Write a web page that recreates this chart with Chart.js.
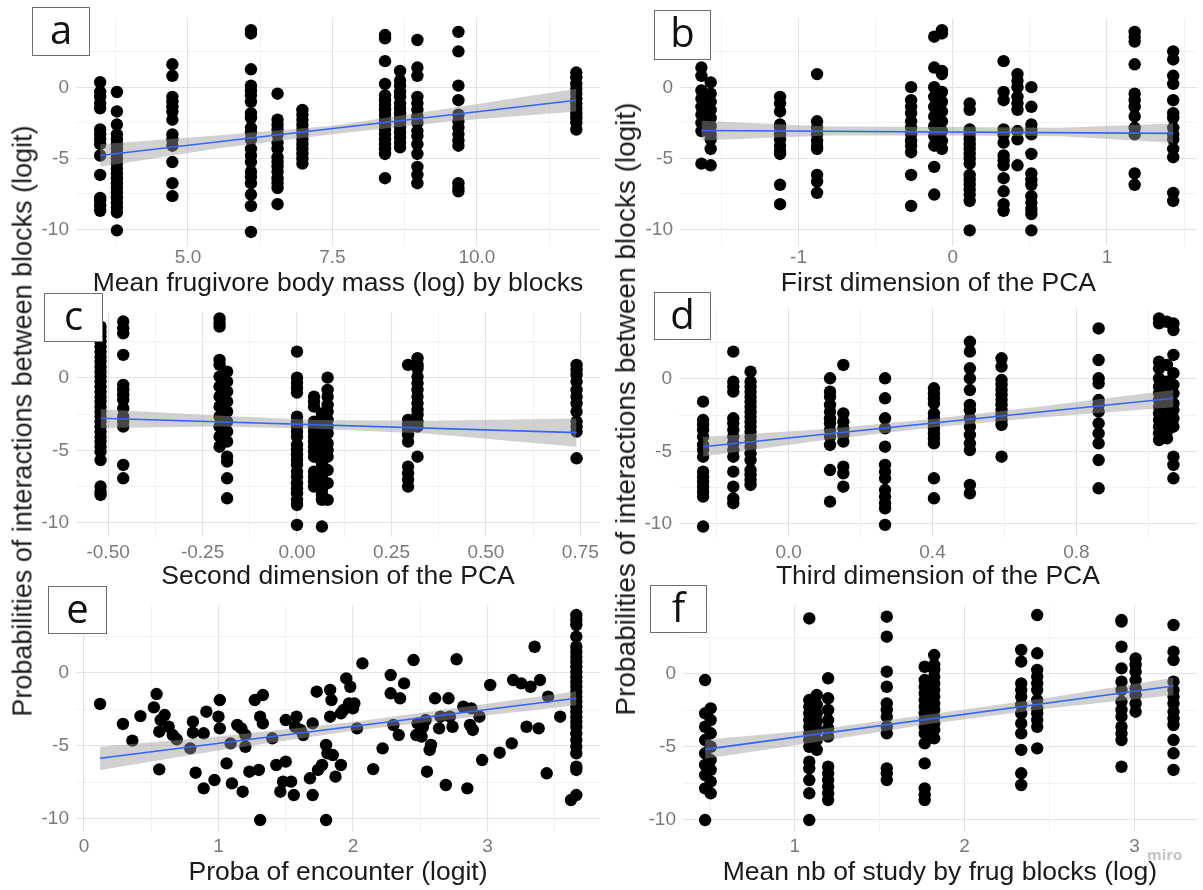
<!DOCTYPE html>
<html><head><meta charset="utf-8">
<script src="https://cdn.jsdelivr.net/npm/chart.js@4.4.1/dist/chart.umd.min.js"></script>
<style>
html,body{margin:0;padding:0;background:#fff;}
#wrap{position:relative;width:1203px;height:890px;overflow:hidden;background:#fff;}
#wrap canvas{position:absolute;left:0;top:0;}
.ytitle{position:absolute;font-family:"Liberation Sans",Arial,sans-serif;color:#1a1a1a;white-space:nowrap;transform:translate(-50%,-50%) rotate(-90deg);}
.box{position:absolute;box-sizing:border-box;border:1.5px solid #6e6e6e;background:#fff;font-family:"Open Sans",sans-serif;font-size:40px;color:#111;text-align:center;line-height:41px;z-index:5;}
.miro{position:absolute;left:1147px;top:844px;font-family:"Open Sans",sans-serif;font-weight:700;font-size:15px;color:#c4c4c4;z-index:5;}
</style></head>
<body><div id="wrap"></div>
<script>
// ---------------- DATA ----------------
// y axis ticks (shared)
const yMajor = [-10, -5, 0];
const yLabels = ["-10", "-5", "0"];
const yMinor = [-7.5, -2.5, 2.5];

// Panel a: Mean frugivore body mass (log) by blocks
const aXMajor = [5, 7.5, 10];
const aXLabels = ["5.0", "7.5", "10.0"];
const aXMinor = [3.75, 6.25, 8.75, 11.25];
const aColX = [3.48, 3.77, 4.73, 6.09, 6.55, 6.98, 8.41, 8.67, 8.97, 9.68, 11.72];
const aColY = [
 [0.36,-0.33,-0.68,-1.13,-1.48,-2.97,-3.31,-3.66,-4.0,-4.8,-6.17,-7.78,-8.0,-8.35,-8.69],
 [-0.33,-1.7,-2.62,-3.31,-3.66,-4.0,-4.34,-4.69,-5.03,-5.37,-5.72,-6.06,-6.4,-6.75,-7.09,-7.43,-7.78,-8.12,-8.46,-8.81,-10.07],
 [1.62,0.81,-0.68,-1.02,-1.37,-1.7,-2.28,-3.31,-3.66,-4.11,-5.26,-6.75,-7.66],
 [4.02,3.79,1.27,0.12,-0.22,-0.56,-1.02,-1.82,-2.16,-2.85,-3.2,-3.66,-4.34,-4.8,-5.26,-5.94,-6.29,-6.75,-7.55,-8.35,-10.18],
 [-0.45,-2.28,-2.62,-2.97,-3.31,-3.89,-4.34,-4.92,-5.26,-5.6,-5.94,-6.4,-6.75,-7.09,-8.23],
 [-1.59,-1.93,-2.28,-2.62,-2.97,-3.31,-3.66,-4.0,-4.34,-4.69,-5.03,-5.37],
 [3.68,3.45,1.84,0.24,-0.56,-0.91,-1.25,-1.59,-1.93,-2.28,-2.62,-2.97,-3.31,-3.66,-4.0,-4.34,-4.69,-6.4],
 [1.15,0.47,0.12,-0.33,-0.68,-1.13,-1.48,-1.82,-2.16,-2.51,-2.85,-3.2,-3.54,-3.89,-4.23],
 [3.33,1.39,0.81,-0.68,-1.13,-1.59,-2.05,-2.51,-3.08,-3.43,-4.0,-4.69,-5.6,-6.17,-6.75],
 [3.9,2.53,0.12,-0.91,-1.93,-2.39,-2.85,-3.31,-3.77,-4.11,-6.75,-7.09,-7.32],
 [1.04,0.7,0.24,-0.1,-0.45,-0.79,-1.13,-1.48,-1.82,-2.16,-2.51,-2.97]
];
const aFitX = [3.48, 11.72];
const aFitY = [-4.8, -0.91];
const aBandX = [3.48, 5.5, 7.5, 9.5, 11.72];
const aBandHi = [-4.0, -3.4, -2.7, -1.5, -0.1];
const aBandLo = [-5.6, -4.3, -3.3, -2.4, -1.7];

// Panel b: First dimension of the PCA
const bXMajor = [-1, 0, 1];
const bXLabels = ["-1", "0", "1"];
const bXMinor = [-1.5, -0.5, 0.5, 1.5];
const bColX = [-1.63, -1.57, -1.12, -0.88, -0.27, -0.12, -0.07, 0.11, 0.33, 0.42, 0.51, 1.18, 1.43];
const bColY = [
 [1.39,0.81,-0.22,-0.79,-1.37,-1.93,-2.51,-3.08,-5.37],
 [0.35,-0.45,-1.02,-1.59,-2.16,-2.74,-3.31,-3.66,-4.34,-5.49],
 [-0.68,-1.13,-1.7,-2.62,-2.85,-3.31,-3.66,-4.11,-4.46,-4.69,-6.86,-8.23],
 [0.93,-2.39,-2.85,-3.31,-3.77,-4.11,-4.34,-6.17,-6.63,-7.43],
 [0.01,-0.91,-1.37,-1.82,-2.39,-2.85,-3.31,-3.77,-4.11,-4.57,-6.17,-8.35],
 [3.56,1.39,0.01,-0.68,-1.37,-2.05,-2.74,-3.43,-4.11,-5.6,-7.55],
 [4.02,3.79,1.15,0.93,-0.33,-1.02,-1.7,-2.39,-3.08,-3.77,-4.34],
 [-1.13,-1.59,-2.97,-3.31,-3.66,-4.0,-4.34,-4.69,-5.03,-5.37,-6.17,-6.52,-6.86,-7.2,-7.55,-8.0,-10.07],
 [1.84,-0.33,-0.91,-2.97,-3.31,-3.89,-4.8,-5.14,-5.49,-6.4,-7.32,-8.23,-8.69],
 [0.93,0.47,0.01,-0.68,-1.13,-1.59,-3.08,-3.66,-5.49],
 [0.01,-1.37,-2.62,-2.97,-3.31,-4.69,-6.06,-6.52,-6.86,-7.66,-8.12,-8.58,-8.92,-10.07],
 [3.9,3.56,3.22,1.62,-0.45,-0.91,-1.37,-2.05,-2.85,-3.31,-6.06,-6.86],
 [2.53,1.96,0.81,0.24,-0.91,-1.82,-2.16,-2.85,-3.31,-3.66,-4.34,-4.92,-7.43,-8.0]
];
const bFitX = [-1.63, 1.43];
const bFitY = [-3.04, -3.24];
const bBandX = [-1.63, -0.8, 0, 0.7, 1.43];
const bBandHi = [-2.35, -2.75, -2.8, -2.85, -2.55];
const bBandLo = [-3.75, -3.4, -3.4, -3.45, -3.9];

// Panel c: Second dimension of the PCA
const cXMajor = [-0.5, -0.25, 0, 0.25, 0.5, 0.75];
const cXLabels = ["-0.50", "-0.25", "0.00", "0.25", "0.50", "0.75"];
const cXMinor = [-0.375, -0.125, 0.125, 0.375, 0.625];
const cColX = [-0.52, -0.46, -0.205, -0.185, 0.0, 0.045, 0.066, 0.081, 0.294, 0.319, 0.74];
const cColY = [
 [3.54,3.19,2.85,2.51,2.16,1.82,1.47,1.13,0.78,0.44,0.09,-0.25,-0.6,-0.94,-1.29,-1.63,-1.98,-2.32,-2.67,-3.01,-3.36,-3.7,-4.05,-4.39,-4.74,-5.08,-5.66,-7.49,-7.84,-8.07],
 [3.89,3.43,3.08,1.59,-0.48,-0.83,-1.17,-1.52,-2.09,-2.67,-3.01,-3.36,-6.0,-6.92],
 [4.11,3.77,3.54,1.24,0.9,0.09,-0.6,-1.29,-1.98,-2.67,-3.36,-4.05,-4.74],
 [0.44,-0.25,-0.94,-1.63,-2.32,-3.01,-3.7,-4.39,-5.43,-5.77,-6.92,-8.3],
 [1.82,0.02,-0.33,-0.67,-1.01,-2.67,-3.01,-3.36,-3.7,-4.05,-4.62,-4.97,-5.31,-5.66,-6.0,-6.46,-6.81,-7.26,-7.61,-7.95,-8.41,-8.76,-10.14],
 [-1.29,-1.63,-1.98,-3.01,-3.36,-3.7,-4.05,-4.39,-4.74,-5.08,-5.43,-6.46,-6.81,-7.15,-7.49],
 [-2.44,-2.78,-3.13,-3.47,-3.82,-4.16,-4.51,-4.85,-5.2,-5.89,-6.35,-6.69,-7.03,-7.38,-7.72,-8.07,-8.41,-10.25],
 [0.02,-0.83,-1.29,-1.86,-2.32,-2.9,-3.36,-3.82,-4.51,-4.97,-5.43,-6.35,-7.26,-8.41],
 [0.9,-2.9,-3.24,-3.59,-3.93,-4.39,-6.12,-6.58,-7.03,-7.49],
 [1.36,0.9,0.67,0.09,-0.37,-0.83,-1.29,-1.75,-2.21,-2.55,-3.01,-3.36,-5.43],
 [0.9,0.55,0.21,-0.25,-0.83,-1.29,-1.75,-2.32,-3.01,-3.36,-3.7,-5.54]
];
const cFitX = [-0.52, 0.74];
const cFitY = [-2.78, -3.77];
const cBandX = [-0.52, -0.2, 0.05, 0.35, 0.74];
const cBandHi = [-2.15, -2.6, -2.9, -2.95, -2.8];
const cBandLo = [-3.45, -3.35, -3.5, -3.85, -4.75];

// Panel d: Third dimension of the PCA
const dXMajor = [0, 0.4, 0.8];
const dXLabels = ["0.0", "0.4", "0.8"];
const dXMinor = [-0.2, 0.2, 0.6, 1.0];
const dColX = [-0.238, -0.154, -0.106, 0.115, 0.152, 0.268, 0.404, 0.504, 0.592, 0.862, 1.03, 1.052, 1.07];
const dColY = [
 [-1.56,-2.83,-3.17,-3.52,-3.98,-4.55,-4.9,-5.36,-6.39,-6.74,-7.08,-7.43,-7.77,-8.11,-10.18],
 [1.89,-0.18,-0.53,-0.87,-2.71,-3.06,-3.52,-3.98,-4.44,-4.9,-5.36,-6.39,-7.43,-8.23,-8.57],
 [0.51,-0.18,-0.53,-0.87,-1.22,-1.56,-1.91,-2.25,-2.6,-2.94,-3.29,-3.63,-3.98,-4.32,-4.67,-5.13,-5.59,-6.28,-6.62,-6.97,-7.31],
 [0.05,-0.87,-1.22,-1.79,-2.25,-2.71,-3.06,-3.52,-3.98,-4.55,-6.28,-8.46],
 [0.97,-2.37,-2.94,-3.4,-3.86,-4.32,-6.05,-6.51,-7.43],
 [0.05,-1.33,-2.71,-3.4,-4.67,-5.93,-6.39,-6.85,-7.66,-8.11,-8.57,-8.92,-10.06],
 [-0.64,-0.99,-1.33,-1.68,-2.37,-2.71,-3.06,-3.4,-3.75,-4.09,-4.44,-6.85,-8.23],
 [2.57,1.89,0.74,0.05,-0.76,-1.79,-2.14,-2.71,-3.29,-3.86,-4.44,-4.9,-7.31,-7.89],
 [1.43,0.86,-0.07,-0.41,-0.76,-1.1,-1.45,-1.79,-2.14,-2.48,-2.83,-3.17,-5.36],
 [3.49,1.31,0.05,-0.3,-1.45,-1.79,-2.25,-3.06,-3.75,-4.44,-5.59,-7.54],
 [4.18,3.84,1.2,0.74,0.05,-0.53,-0.99,-1.45,-1.91,-2.37,-2.83,-3.29,-3.75,-4.21],
 [3.95,0.97,-0.18,-0.76,-1.33,-1.91,-2.48,-3.06,-3.63,-4.09],
 [3.84,3.38,1.66,0.4,-0.41,-0.99,-1.68,-2.14,-2.71,-3.29,-5.36,-5.93,-6.85]
];
const dFitX = [-0.238, 1.07];
const dFitY = [-4.67, -1.33];
const dBandX = [-0.238, 0.1, 0.4, 0.7, 1.07];
const dBandHi = [-4.0, -3.45, -2.75, -1.9, -0.75];
const dBandLo = [-5.35, -4.2, -3.35, -2.65, -1.95];

// Panel e: Proba of encounter (logit)
const eXMajor = [0, 1, 2, 3];
const eXLabels = ["0", "1", "2", "3"];
const eXMinor = [0.5, 1.5, 2.5, 3.5];
const ePairs = [
 [0.12,-2.12],[0.29,-3.49],[0.36,-4.63],[0.42,-2.95],[0.52,-2.35],[0.54,-1.44],[0.56,-6.6],[0.56,-4.02],
 [0.57,-3.22],[0.6,-2.88],[0.63,-3.68],[0.66,-4.25],[0.69,-4.54],[0.79,-5.16],[0.81,-3.33],[0.83,-6.83],
 [0.81,-4.09],[0.89,-4.13],[0.89,-7.9],[0.91,-2.65],[0.97,-7.33],[1.0,-2.99],[1.01,-3.79],[1.01,-1.85],
 [1.09,-4.82],[1.06,-6.19],[1.1,-7.56],[1.14,-3.56],[1.17,-3.79],[1.18,-8.13],[1.2,-4.25],[1.2,-5.05],
 [1.23,-6.76],[1.3,-6.64],[1.27,-1.85],[1.33,-1.51],[1.31,-2.99],[1.33,-3.45],[1.31,-10.07],[1.4,-4.47],
 [1.43,-6.3],[1.46,-8.13],[1.5,-6.07],[1.48,-7.44],[1.5,-3.22],[1.54,-7.44],[1.56,-8.36],[1.57,-3.68],
 [1.58,-2.99],[1.61,-3.9],[1.63,-4.25],[1.68,-7.21],[1.7,-8.36],[1.7,-3.45],[1.73,-1.28],[1.74,-6.64],
 [1.77,-6.3],[1.8,-4.93],[1.8,-10.07],[1.81,-5.5],[1.83,-1.16],[1.83,-2.99],[1.84,-1.85],[1.85,-5.62],
 [1.87,-7.1],[1.91,-6.3],[1.91,-2.76],[1.93,-2.53],[1.95,-0.37],[1.97,-2.08],[1.98,-0.94],[2.0,-2.42],
 [2.01,-2.08],[2.03,-3.79],[2.07,0.66],[2.15,-6.58],[2.22,-5.16],[2.28,-0.14],[2.28,-1.39],[2.3,-3.56],
 [2.34,-4.25],[2.35,-1.73],[2.38,-0.71],[2.45,0.89],[2.47,-4.25],[2.48,-3.45],[2.51,-4.36],[2.52,-3.68],
 [2.54,-3.22],[2.55,-6.76],[2.57,-5.27],[2.58,-4.93],[2.61,-1.73],[2.64,-3.79],[2.65,-2.99],[2.69,-7.67],
 [2.71,-1.73],[2.72,-2.99],[2.74,-3.68],[2.77,0.94],[2.82,-2.31],[2.85,-7.9],[2.87,-3.56],[2.88,-2.42],
 [2.89,-3.9],[2.94,-2.99],[2.96,-5.96],[3.02,-0.82],[3.09,-5.46],[3.18,-4.82],[3.19,-0.48],[3.25,-0.71],
 [3.29,-3.68],[3.32,-0.94],[3.35,1.8],[3.38,-3.79],[3.39,-0.48],[3.44,-6.87],[3.45,-1.62],[3.54,-2.99],
 [3.62,-8.7]
];
const eColX = [3.66];
const eColY = [[3.97,3.63,3.29,2.49,1.8,1.46,1.12,0.78,0.43,0.09,-0.25,-0.59,-0.94,-1.28,-1.62,-1.96,-2.31,-2.65,-2.99,-3.33,-3.68,-4.13,-4.59,-5.05,-5.5,-6.42,-6.64,-8.36]];
const eFitX = [0.12, 3.66];
const eFitY = [-5.84, -1.73];
const eBandX = [0.12, 1, 2, 3, 3.66];
const eBandHi = [-5.05, -4.35, -3.35, -2.1, -1.25];
const eBandLo = [-6.65, -5.3, -3.95, -2.9, -2.2];

// Panel f: Mean nb of study by frug blocks (log)
const fXMajor = [1, 2, 3];
const fXLabels = ["1", "2", "3"];
const fXMinor = [0.5, 1.5, 2.5];
const fColX = [0.473, 0.506, 1.086, 1.13, 1.197, 1.542, 1.765, 1.821, 2.333, 2.427, 2.923, 3.006, 3.229];
const fColY = [
 [-0.41,-2.69,-3.61,-4.52,-5.43,-6.23,-6.92,-7.83,-10.0],
 [-2.35,-3.15,-4.06,-4.98,-5.89,-6.57,-7.37,-8.17],
 [3.81,-1.78,-2.24,-2.69,-3.15,-3.61,-4.06,-4.52,-4.98,-6.0,-6.46,-7.26,-8.17,-10.0],
 [-1.44,-2.12,-2.69,-3.26,-3.83,-4.52,-5.2],
 [-0.29,-1.66,-2.46,-3.15,-3.72,-4.29,-6.35,-6.8,-7.26,-7.72,-8.17,-8.63],
 [3.93,2.56,0.16,-0.87,-2.01,-2.46,-2.92,-3.61,-4.06,-6.46,-6.8,-7.26],
 [0.5,-0.41,-0.87,-1.32,-1.78,-2.24,-2.69,-3.15,-3.61,-4.06,-4.75,-6.12,-7.83,-8.29,-8.63],
 [1.3,0.62,0.28,-0.18,-0.64,-1.1,-1.55,-2.01,-2.46,-2.92,-3.38,-3.83,-4.4],
 [1.65,0.85,-0.64,-1.1,-1.55,-2.12,-2.69,-3.38,-4.06,-5.2,-6.8,-7.6],
 [4.04,1.42,0.28,-0.18,-0.64,-1.1,-1.78,-2.35,-2.69,-3.15,-3.61,-5.09],
 [3.7,3.59,1.87,0.39,-0.52,-1.1,-1.89,-2.46,-2.92,-3.61,-4.06,-4.52,-6.35],
 [1.07,0.62,0.16,-0.41,-0.98,-1.44,-2.01,-2.58],
 [3.36,1.53,0.96,-0.52,-1.1,-1.55,-2.01,-2.58,-3.03,-3.49,-4.52,-5.43,-6.57]
];
const fFitX = [0.473, 3.229];
const fFitY = [-5.16, -0.82];
const fBandX = [0.473, 1.1, 1.8, 2.5, 3.229];
const fBandHi = [-4.5, -3.85, -2.75, -1.6, -0.25];
const fBandLo = [-5.8, -4.7, -3.4, -2.35, -1.45];

const yTitleText = 'Probabilities of interactions between blocks (logit)';

// ---------------- LAYOUT (page pixels & axis ranges) ----------------
const W = 1203, H = 890;
const FONT = '"Liberation Sans", Arial, sans-serif';
const panels = [
 {key:'a', title:'Mean frugivore body mass (log) by blocks', L:76, R:600, T:13, B:246, xmin:3.062, xmax:12.13, ymin:-11.17, ymax:4.85, xH:54, xPad:0,
  xMajor:aXMajor, xLabels:aXLabels, xMinor:aXMinor, colX:aColX, colY:aColY, pairs:[], fitX:aFitX, fitY:aFitY, bandX:aBandX, hi:aBandHi, lo:aBandLo},
 {key:'b', title:'First dimension of the PCA', L:680, R:1203, T:13, B:246, xmin:-1.769, xmax:1.583, ymin:-11.17, ymax:4.85, xH:54, xPad:0,
  xMajor:bXMajor, xLabels:bXLabels, xMinor:bXMinor, colX:bColX, colY:bColY, pairs:[], fitX:bFitX, fitY:bFitY, bandX:bBandX, hi:bBandHi, lo:bBandLo},
 {key:'c', title:'Second dimension of the PCA', L:76, R:600, T:312, B:537, xmin:-0.585, xmax:0.802, ymin:-10.97, ymax:4.55, xH:56, xPad:4,
  xMajor:cXMajor, xLabels:cXLabels, xMinor:cXMinor, colX:cColX, colY:cColY, pairs:[], fitX:cFitX, fitY:cFitY, bandX:cBandX, hi:cBandHi, lo:cBandLo},
 {key:'d', title:'Third dimension of the PCA', L:679, R:1203, T:308, B:537, xmin:-0.305, xmax:1.135, ymin:-10.9, ymax:4.9, xH:56, xPad:4,
  xMajor:dXMajor, xLabels:dXLabels, xMinor:dXMinor, colX:dColX, colY:dColY, pairs:[], fitX:dFitX, fitY:dFitY, bandX:dBandX, hi:dBandHi, lo:dBandLo},
 {key:'e', title:'Proba of encounter (logit)', L:76, R:600, T:605, B:832, xmin:-0.059, xmax:3.836, ymin:-10.89, ymax:4.66, xH:57, xPad:3,
  xMajor:eXMajor, xLabels:eXLabels, xMinor:eXMinor, colX:eColX, colY:eColY, pairs:ePairs, fitX:eFitX, fitY:eFitY, bandX:eBandX, hi:eBandHi, lo:eBandLo},
 {key:'f', title:'Mean nb of study by frug blocks (log)', L:683, R:1203, T:605, B:832, xmin:0.343, xmax:3.366, ymin:-10.82, ymax:4.73, xH:57, xPad:3,
  xMajor:fXMajor, xLabels:fXLabels, xMinor:fXMinor, colX:fColX, colY:fColY, pairs:[], fitX:fFitX, fitY:fFitY, bandX:fBandX, hi:fBandHi, lo:fBandLo}
];
const boxes = [
 {t:'a', x:32, y:7, w:58, h:49},
 {t:'b', x:654, y:10, w:57, h:50},
 {t:'c', x:44, y:293, w:59, h:49},
 {t:'d', x:654, y:292, w:57, h:48},
 {t:'e', x:48, y:586, w:59, h:48},
 {t:'f', x:650, y:585, w:57, h:48}
];
const yTitles = [{x:23, y:421, size:27}, {x:626, y:409, size:28}];

// ---------------- RENDER ----------------
const wrap = document.getElementById('wrap');
const near = (a, b) => Math.abs(a - b) < 1e-6;
const isIn = (v, arr) => arr.some(m => near(v, m));
const labelOf = (v, majors, labels) => { for (let i = 0; i < majors.length; i++) if (near(v, majors[i])) return labels[i]; return ''; };
const gridColor = majors => c => (c.tick && isIn(c.tick.value, majors)) ? '#E3E3E3' : '#F0F0F0';

panels.forEach(p => {
  const cv = document.createElement('canvas');
  cv.width = W; cv.height = H;
  wrap.appendChild(cv);
  const pts = [];
  p.colX.forEach((x, i) => p.colY[i].forEach(y => pts.push({x, y})));
  p.pairs.forEach(q => pts.push({x: q[0], y: q[1]}));
  const fit = p.fitX.map((x, i) => ({x, y: p.fitY[i]}));
  const hi = p.bandX.map((x, i) => ({x, y: p.hi[i]}));
  const lo = p.bandX.map((x, i) => ({x, y: p.lo[i]}));
  const yW = 60;
  const xTicks = p.xMajor.concat(p.xMinor).filter(v => v >= p.xmin && v <= p.xmax).sort((a, b) => a - b);
  const yTicks = yMajor.concat(yMinor).filter(v => v >= p.ymin && v <= p.ymax).sort((a, b) => a - b);
  new Chart(cv, {
    type: 'scatter',
    data: { datasets: [
      {type:'line', data: fit, borderColor:'#3366FF', borderWidth:1.6, pointRadius:0, fill:false, tension:0},
      {type:'line', data: hi, borderColor:'rgba(0,0,0,0)', borderWidth:0, pointRadius:0, fill:false, tension:0},
      {type:'line', data: lo, borderColor:'rgba(0,0,0,0)', borderWidth:0, pointRadius:0, fill:'-1', backgroundColor:'rgba(153,153,153,0.45)', tension:0},
      {type:'scatter', data: pts, pointRadius:6.2, pointHoverRadius:6.2, backgroundColor:'#000', borderWidth:0}
    ]},
    options: {
      responsive:false, animation:false, devicePixelRatio:1, events:[],
      layout:{padding:{left:p.L - yW, top:p.T, right:W - p.R, bottom:H - p.B - p.xH}},
      plugins:{legend:{display:false}, tooltip:{enabled:false}},
      scales:{
        x:{type:'linear', position:'bottom', min:p.xmin, max:p.xmax, bounds:'data',
           afterBuildTicks: s => { s.ticks = xTicks.map(v => ({value:v})); },
           afterFit: s => { s.height = p.xH; },
           grid:{drawTicks:false, color: gridColor(p.xMajor), lineWidth: c => (c.tick && isIn(c.tick.value, p.xMajor)) ? 1.1 : 0.8},
           border:{display:false},
           ticks:{autoSkip:false, maxRotation:0, minRotation:0, padding:p.xPad, color:'#7a7a7a', font:{family:FONT, size:19},
                  callback: v => labelOf(v, p.xMajor, p.xLabels)},
           title:{display:true, text:p.title, color:'#1a1a1a', font:{family:FONT, size:26.5}, padding:{top:0, bottom:0}}
        },
        y:{type:'linear', position:'left', min:p.ymin, max:p.ymax, bounds:'data',
           afterBuildTicks: s => { s.ticks = yTicks.map(v => ({value:v})); },
           afterFit: s => { s.width = yW; },
           grid:{drawTicks:false, color: gridColor(yMajor), lineWidth: c => (c.tick && isIn(c.tick.value, yMajor)) ? 1.1 : 0.8},
           border:{display:false},
           ticks:{autoSkip:false, padding:7, color:'#7a7a7a', font:{family:FONT, size:19},
                  callback: v => labelOf(v, yMajor, yLabels)}
        }
      }
    }
  });
});

// shared y-axis titles
yTitles.forEach(t => {
  const d = document.createElement('div');
  d.className = 'ytitle';
  d.style.left = t.x + 'px'; d.style.top = t.y + 'px';
  d.style.fontSize = t.size + 'px';
  d.textContent = yTitleText;
  wrap.appendChild(d);
});
// panel letter boxes
boxes.forEach(b => {
  const d = document.createElement('div');
  d.className = 'box';
  d.style.left = b.x + 'px'; d.style.top = b.y + 'px';
  d.style.width = b.w + 'px'; d.style.height = b.h + 'px';
  d.textContent = b.t;
  wrap.appendChild(d);
});
const m = document.createElement('div');
m.className = 'miro'; m.textContent = 'miro';
wrap.appendChild(m);
</script>
</body></html>
